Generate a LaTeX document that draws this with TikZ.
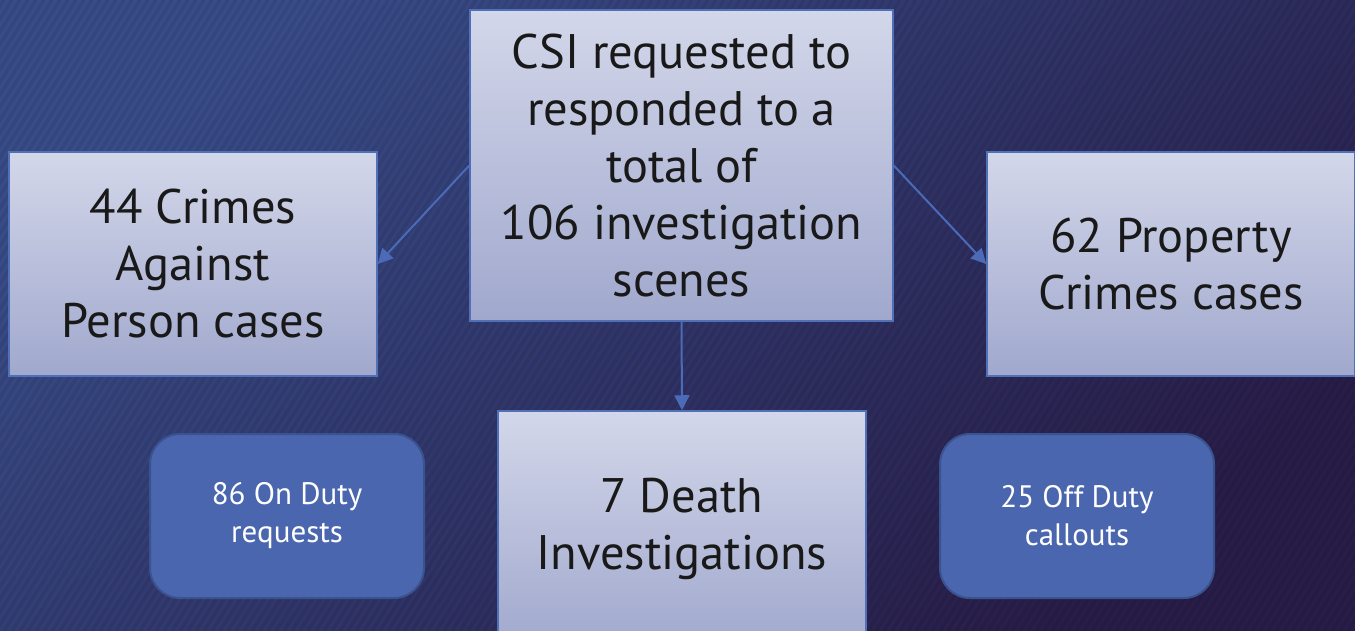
\documentclass[tikz,border=0pt]{standalone}
\usepackage{fontspec}
\setmainfont{PT Sans}
\usetikzlibrary{arrows.meta}
\definecolor{bgA}{HTML}{384C88}
\definecolor{bgB}{HTML}{281D48}
\definecolor{boxtop}{HTML}{D3D7EA}
\definecolor{boxbot}{HTML}{A0A8CD}
\definecolor{boxline}{HTML}{5070B8}
\definecolor{rfill}{HTML}{4A66AE}
\definecolor{rline}{HTML}{3A5290}
\definecolor{arrowc}{HTML}{4B6BB8}
\tikzset{
  lightbox/.style={draw=boxline, line width=1.5pt, top color=boxtop, bottom color=boxbot,
    align=center, text=black!90, font=\fontsize{48.5}{57}\selectfont, inner sep=0pt},
  roundbox/.style={draw=rline, line width=2pt, fill=rfill, rounded corners=30pt,
    minimum width=274pt, minimum height=164pt, align=center, text=white,
    font=\fontsize{31}{38}\selectfont, inner sep=0pt},
  arr/.style={draw=arrowc, line width=2pt, -{Triangle[length=15pt,width=15pt]}}
}
\begin{document}
\begin{tikzpicture}[x=1pt,y=-1pt]
\useasboundingbox (0,0) rectangle (1355,631);
\shade[top color=bgA, bottom color=bgB, shading angle=40] (0,0) rectangle (1355,631);
\begin{scope}
\clip (0,0) rectangle (1355,631);
\foreach \i in {0,...,240} {
  \draw[black, opacity=0.07, line width=3.5pt] ({\i*8-420},631) -- ++(400,-631);
}
\end{scope}
\node[lightbox, minimum width=423pt, minimum height=311pt] (top) at (681.5,165.5)
  {CSI requested to\\responded to a\\total of\\106 investigation\\scenes};
\node[lightbox, minimum width=368pt, minimum height=224pt] (left) at (193,264)
  {44 Crimes\\Against\\Person cases};
\node[lightbox, minimum width=368pt, minimum height=224pt] (right) at (1171,264)
  {62 Property\\Crimes cases};
\node[lightbox, minimum width=368pt, minimum height=236pt] (bottom) at (682,529)
  {7 Death\\Investigations};
\node[roundbox] (onduty) at (287,516) {\vphantom{f}86 On Duty\\requests};
\node[roundbox] (offduty) at (1077,516) {25 Off Duty\\callouts};
\draw[arr] (top.west) -- (left.east);
\draw[arr] (top.east) -- (right.west);
\draw[arr] (top.south) -- (bottom.north);
\end{tikzpicture}
\end{document}
